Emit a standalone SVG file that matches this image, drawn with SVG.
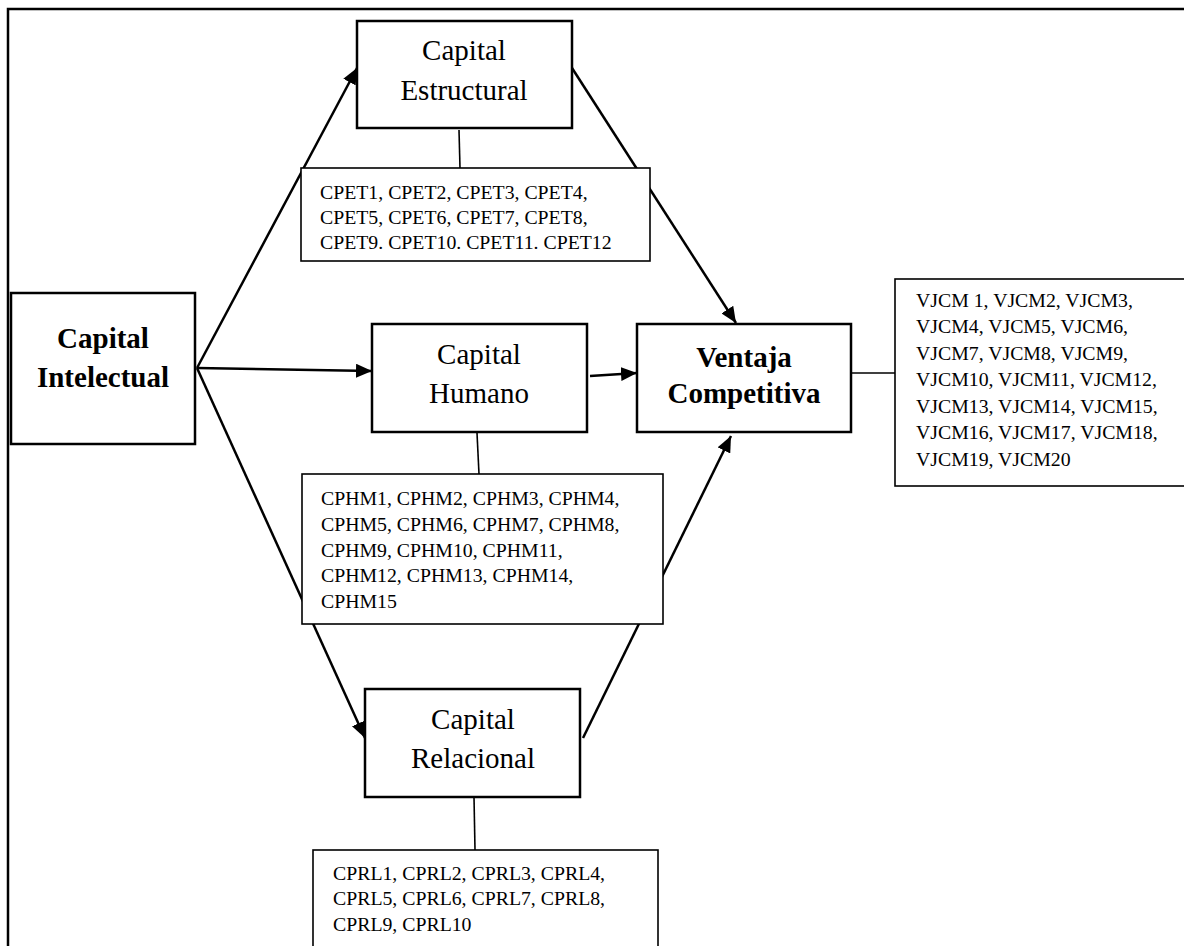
<svg xmlns="http://www.w3.org/2000/svg" width="1184" height="946" viewBox="0 0 1184 946">
<defs>
<marker id="arr" markerUnits="userSpaceOnUse" markerWidth="18" markerHeight="14" refX="16" refY="7" orient="auto">
<path d="M0,0 L16,7 L0,14 Z" fill="#000"/>
</marker>
<style>
.main{fill:#fff;stroke:#000;stroke-width:2.5}
.ind{fill:#fff;stroke:#000;stroke-width:1.6}
.arrow{stroke:#000;stroke-width:2.5;fill:none;marker-end:url(#arr)}
.link{stroke:#000;stroke-width:1.6;fill:none}
.t{font-family:"Liberation Serif","Times New Roman",serif;font-size:29px;text-anchor:middle;fill:#000}
.b{font-weight:bold}
.s{font-family:"Liberation Serif","Times New Roman",serif;font-size:19.8px;fill:#000}
</style>
</defs>
<rect width="1184" height="946" fill="#fff"/>
<path d="M8,960 V9 H1190" fill="none" stroke="#000" stroke-width="2.5"/>
<g id="connectors">
<line class="arrow" x1="197" y1="368" x2="357" y2="68"/>
<line class="arrow" x1="197" y1="368" x2="372" y2="371"/>
<line class="arrow" x1="197" y1="368" x2="365" y2="738"/>
<line class="arrow" x1="572" y1="68" x2="736" y2="323"/>
<line class="arrow" x1="590" y1="376" x2="637" y2="373"/>
<line class="arrow" x1="583" y1="738" x2="731" y2="436"/>
<line class="link" x1="459" y1="130" x2="460" y2="168"/>
<line class="link" x1="477" y1="433" x2="479" y2="474"/>
<line class="link" x1="474" y1="797" x2="475" y2="850"/>
<line class="link" x1="851" y1="373" x2="895" y2="373"/>
</g>
<g id="capital-intelectual">
<rect class="main" x="11" y="293" width="184" height="151"/>
<text class="t b" x="103" y="348">Capital</text>
<text class="t b" x="103" y="387">Intelectual</text>
</g>
<g id="capital-estructural">
<rect class="main" x="357" y="21" width="215" height="107"/>
<text class="t" x="464" y="60">Capital</text>
<text class="t" x="464" y="100">Estructural</text>
</g>
<g id="cpet">
<rect class="ind" x="301" y="168" width="349" height="93"/>
<text class="s" x="320" y="199">CPET1, CPET2, CPET3, CPET4,</text>
<text class="s" x="320" y="224">CPET5, CPET6, CPET7, CPET8,</text>
<text class="s" x="320" y="249">CPET9. CPET10. CPET11. CPET12</text>
</g>
<g id="capital-humano">
<rect class="main" x="372" y="324" width="215" height="108"/>
<text class="t" x="479" y="364">Capital</text>
<text class="t" x="479" y="403">Humano</text>
</g>
<g id="cphm">
<rect class="ind" x="302" y="474" width="361" height="150"/>
<text class="s" x="321" y="505">CPHM1, CPHM2, CPHM3, CPHM4,</text>
<text class="s" x="321" y="531">CPHM5, CPHM6, CPHM7, CPHM8,</text>
<text class="s" x="321" y="557">CPHM9, CPHM10, CPHM11,</text>
<text class="s" x="321" y="582">CPHM12, CPHM13, CPHM14,</text>
<text class="s" x="321" y="608">CPHM15</text>
</g>
<g id="capital-relacional">
<rect class="main" x="365" y="689" width="215" height="108"/>
<text class="t" x="473" y="729">Capital</text>
<text class="t" x="473" y="768">Relacional</text>
</g>
<g id="cprl">
<rect class="ind" x="313" y="850" width="345" height="110"/>
<text class="s" x="333" y="880">CPRL1, CPRL2, CPRL3, CPRL4,</text>
<text class="s" x="333" y="905">CPRL5, CPRL6, CPRL7, CPRL8,</text>
<text class="s" x="333" y="931">CPRL9, CPRL10</text>
</g>
<g id="ventaja-competitiva">
<rect class="main" x="637" y="324" width="214" height="108"/>
<text class="t b" x="744" y="367">Ventaja</text>
<text class="t b" x="744" y="403">Competitiva</text>
</g>
<g id="vjcm">
<rect class="ind" x="895" y="279" width="300" height="207"/>
<text class="s" x="916" y="307">VJCM 1, VJCM2, VJCM3,</text>
<text class="s" x="916" y="333">VJCM4, VJCM5, VJCM6,</text>
<text class="s" x="916" y="360">VJCM7, VJCM8, VJCM9,</text>
<text class="s" x="916" y="386">VJCM10, VJCM11, VJCM12,</text>
<text class="s" x="916" y="413">VJCM13, VJCM14, VJCM15,</text>
<text class="s" x="916" y="439">VJCM16, VJCM17, VJCM18,</text>
<text class="s" x="916" y="466">VJCM19, VJCM20</text>
</g>
</svg>
